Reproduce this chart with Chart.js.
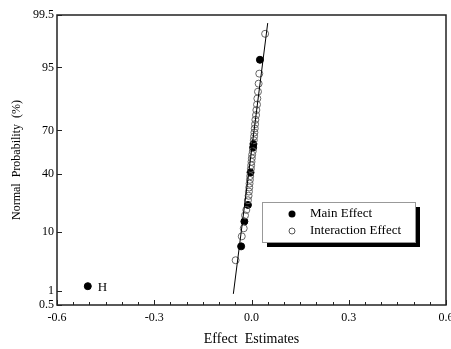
<!DOCTYPE html>
<html>
<head>
<meta charset="utf-8">
<script src="https://cdn.jsdelivr.net/npm/chart.js@4.4.0/dist/chart.umd.min.js"></script>
<style>
  html, body { margin: 0; padding: 0; background: #fff; }
  #wrap { width: 451px; height: 349px; }
</style>
</head>
<body>
<div id="wrap"><canvas id="chart" width="451" height="349"></canvas></div>
<script>
// main effects: estimate + normal probability (%)
const mainX = [-0.505, -0.032, -0.022, -0.011, -0.003, 0.005, 0.006, 0.026];
const mainP = [1.25, 6.25, 13.75, 21.25, 41.25, 58.75, 61.25, 96.25];
const mainLabels = ["H", "", "", "", "", "", "", ""];

// interaction effects
const interX = [-0.049, -0.030, -0.024, -0.020, -0.016, -0.011, -0.009, -0.008,
  -0.007, -0.006, -0.005, -0.004, -0.002, -0.001, 0.000, 0.001, 0.002, 0.004,
  0.007, 0.008, 0.009, 0.010, 0.011, 0.012, 0.014, 0.015, 0.017, 0.018, 0.020,
  0.022, 0.024, 0.042];
const interP = [3.75, 8.75, 11.25, 16.25, 18.75, 23.75, 26.25, 28.75,
  31.25, 33.75, 36.25, 38.75, 43.75, 46.25, 48.75, 51.25, 53.75, 56.25,
  63.75, 66.25, 68.75, 71.25, 73.75, 76.25, 78.75, 81.25, 83.75, 86.25, 88.75,
  91.25, 93.75, 98.75];

// reference line
const fitX = [-0.056, 0.050];
const fitP = [0.87, 99.25];

const yTickP = [0.5, 1, 10, 40, 70, 95, 99.5];
const yTickLabels = ["0.5", "1", "10", "40", "70", "95", "99.5"];

const SERIF = "'Liberation Serif', 'DejaVu Serif', serif";

// inverse normal cdf (probability paper scale)
function probit(p){
  const a = [-3.969683028665376e+01, 2.209460984245205e+02, -2.759285104469687e+02, 1.383577518672690e+02, -3.066479806614716e+01, 2.506628277459239e+00];
  const b = [-5.447609879822406e+01, 1.615858368580409e+02, -1.556989798598866e+02, 6.680131188771972e+01, -1.328068155288572e+01];
  const c = [-7.784894002430293e-03, -3.223964580411365e-01, -2.400758277161838e+00, -2.549732539343734e+00, 4.374664141464968e+00, 2.938163982698783e+00];
  const d = [7.784695709041462e-03, 3.224671290700398e-01, 2.445134137142996e+00, 3.754408661907416e+00];
  const pl = 0.02425;
  let q, r;
  if(p < pl){
    q = Math.sqrt(-2 * Math.log(p));
    return (((((c[0]*q+c[1])*q+c[2])*q+c[3])*q+c[4])*q+c[5]) / ((((d[0]*q+d[1])*q+d[2])*q+d[3])*q+1);
  }
  if(p > 1 - pl){
    q = Math.sqrt(-2 * Math.log(1 - p));
    return -(((((c[0]*q+c[1])*q+c[2])*q+c[3])*q+c[4])*q+c[5]) / ((((d[0]*q+d[1])*q+d[2])*q+d[3])*q+1);
  }
  q = p - 0.5; r = q * q;
  return (((((a[0]*r+a[1])*r+a[2])*r+a[3])*r+a[4])*r+a[5])*q / (((((b[0]*r+b[1])*r+b[2])*r+b[3])*r+b[4])*r+1);
}

const toPts = (xs, ps) => xs.map((x, i) => ({ x, y: probit(ps[i] / 100) }));

const isMajorX = (v) => Math.abs(v / 0.3 - Math.round(v / 0.3)) < 1e-6;

const decor = {
  id: "decor",
  afterDraw(chart){
    const { ctx, chartArea: a, scales: { x, y } } = chart;
    ctx.save();

    // frame
    ctx.strokeStyle = "#222";
    ctx.lineWidth = 1.5;
    ctx.strokeRect(a.left, a.top, a.right - a.left, a.bottom - a.top);

    // inward ticks
    ctx.lineWidth = 1;
    ctx.beginPath();
    for(const t of x.ticks){
      const px = Math.round(x.getPixelForValue(t.value)) + 0.5;
      const len = isMajorX(t.value) ? 5 : 3;
      ctx.moveTo(px, a.bottom);
      ctx.lineTo(px, a.bottom - len);
    }
    for(const t of y.ticks){
      const py = Math.round(y.getPixelForValue(t.value)) + 0.5;
      ctx.moveTo(a.left, py);
      ctx.lineTo(a.left + 5, py);
    }
    ctx.stroke();

    // point labels
    ctx.fillStyle = "#000";
    ctx.font = "13px " + SERIF;
    ctx.textAlign = "left";
    ctx.textBaseline = "middle";
    const meta = chart.getDatasetMeta(2);
    meta.data.forEach((pt, i) => {
      if(mainLabels[i]) ctx.fillText(mainLabels[i], pt.x + 10, pt.y + 1);
    });

    // legend box with shadow
    const bx = a.left + 205, by = a.top + 187, bw = 153, bh = 40;
    ctx.fillStyle = "#000";
    ctx.fillRect(bx + 5, by + 5, bw, bh);
    ctx.fillStyle = "#fff";
    ctx.fillRect(bx, by, bw, bh);
    ctx.strokeStyle = "#999";
    ctx.lineWidth = 1;
    ctx.strokeRect(bx + 0.5, by + 0.5, bw, bh);

    ctx.beginPath();
    ctx.arc(bx + 30, by + 12, 3.5, 0, Math.PI * 2);
    ctx.fillStyle = "#000";
    ctx.fill();
    ctx.beginPath();
    ctx.arc(bx + 30, by + 29, 3, 0, Math.PI * 2);
    ctx.strokeStyle = "#555";
    ctx.stroke();

    ctx.fillStyle = "#000";
    ctx.font = "13px " + SERIF;
    ctx.fillText("Main Effect", bx + 48, by + 12);
    ctx.fillText("Interaction Effect", bx + 48, by + 29);

    ctx.restore();
  }
};

new Chart(document.getElementById("chart"), {
  type: "scatter",
  data: {
    datasets: [
      { type: "line", label: "fit", data: toPts(fitX, fitP), borderColor: "#000", borderWidth: 1,
        pointRadius: 0, fill: false, tension: 0 },
      { label: "Interaction Effect", data: toPts(interX, interP), pointRadius: 3.5,
        backgroundColor: "rgba(255,255,255,0)", borderColor: "#666", borderWidth: 1 },
      { label: "Main Effect", data: toPts(mainX, mainP), pointRadius: 3.5,
        backgroundColor: "#000", borderColor: "#000", borderWidth: 1 },
    ]
  },
  options: {
    responsive: false,
    animation: false,
    devicePixelRatio: 1,
    layout: { padding: { top: 15, right: 5, left: 0, bottom: 0 } },
    plugins: { legend: { display: false }, tooltip: { enabled: false } },
    scales: {
      x: {
        type: "linear", min: -0.6, max: 0.6,
        grid: { drawOnChartArea: false, drawTicks: false },
        border: { display: false },
        ticks: {
          stepSize: 0.05, autoSkip: false, maxRotation: 0, padding: 6,
          color: "#000", font: { family: SERIF, size: 12 },
          callback: (v) => isMajorX(v) ? (Math.abs(v) < 1e-9 ? "0.0" : v.toFixed(1)) : ""
        },
        title: { display: true, text: "Effect  Estimates", color: "#000",
          font: { family: SERIF, size: 14 }, padding: { top: 0, bottom: 1 } },
        afterFit(s){ s.height = 44; s.paddingLeft = 0; s.paddingRight = 0; }
      },
      y: {
        type: "linear", min: probit(0.005), max: probit(0.995),
        grid: { drawOnChartArea: false, drawTicks: false },
        border: { display: false },
        afterBuildTicks(s){ s.ticks = yTickP.map(p => ({ value: probit(p / 100) })); },
        ticks: {
          autoSkip: false, padding: 3, color: "#000", font: { family: SERIF, size: 12 },
          callback: (v, i) => yTickLabels[i]
        },
        title: { display: true, text: "Normal  Probability  (%)", color: "#000",
          font: { family: SERIF, size: 12 }, padding: { top: 10, bottom: 0 } },
        afterFit(s){ s.width = 57; s.paddingTop = 0; s.paddingBottom = 0; }
      }
    }
  },
  plugins: [decor]
});
</script>
</body>
</html>
